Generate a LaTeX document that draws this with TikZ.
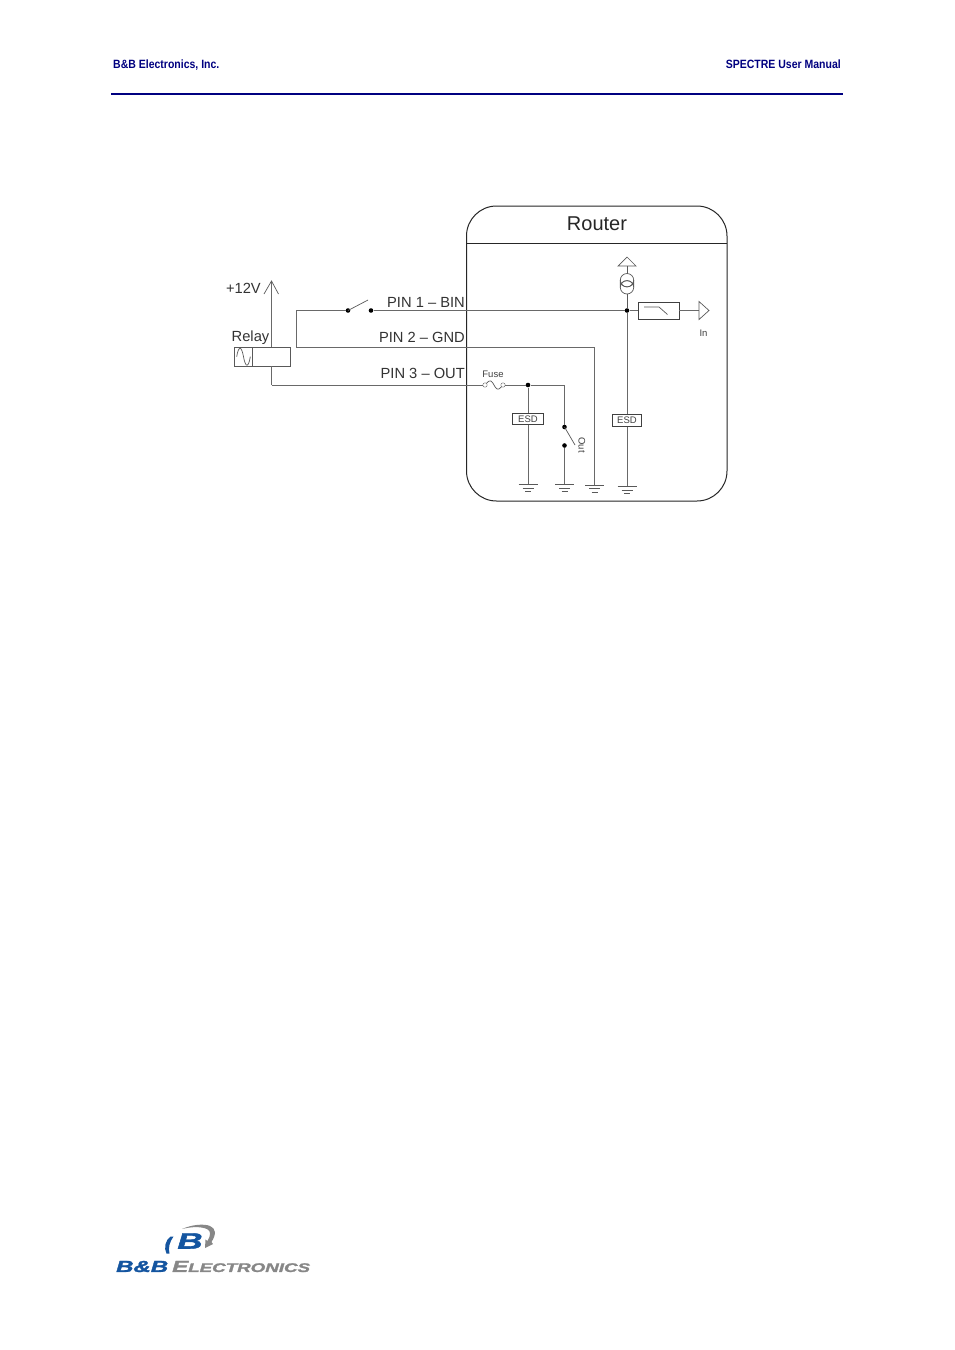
\documentclass[tikz,border=0pt]{standalone}
\usepackage{fontspec}
\setmainfont{Liberation Sans}
\newfontfamily\logofont[BoldItalicFeatures={FakeBold=1.6}]{Liberation Sans}
\usetikzlibrary{arrows.meta,calc}
\definecolor{navy}{RGB}{0,0,128}
\definecolor{wire}{RGB}{105,105,105}
\definecolor{bbblue}{RGB}{20,85,160}
\definecolor{bbgray}{RGB}{135,135,135}
\tikzset{
  wireline/.style={draw=wire,line width=0.8pt},
  symline/.style={draw=wire!85!black,line width=0.7pt},
  junction/.style={circle,fill=black,inner sep=0pt,minimum size=4.6pt},
  lab/.style={inner sep=0pt,text=black!80,font=\fontsize{14.7}{16}\selectfont},
  small/.style={inner sep=0pt,text=black!75,font=\fontsize{9.5}{11}\selectfont},
  esdbox/.style={draw=black!75,fill=white,line width=0.7pt,inner sep=0pt,minimum height=11.5pt,text=black!75,font=\fontsize{9.5}{11}\selectfont},
  gnd/.pic={\draw[symline] (-9.5,0)--(9.5,0) (-5.5,3.5)--(5.5,3.5) (-3,7)--(3,7);},
}
\begin{document}
\begin{tikzpicture}[x=1pt,y=-1pt]
\useasboundingbox (0,0) rectangle (954,1350);
\fill[white] (0,0) rectangle (954,1350);
% header
\node[anchor=base west,inner sep=0pt,text=navy] (hl) at (113,68) {\scalebox{0.875}[1]{\fontsize{12}{14}\selectfont\bfseries B\&B Electronics, Inc.}};
\node[anchor=base east,inner sep=0pt,text=navy] (hr) at (841,68) {\scalebox{0.875}[1]{\fontsize{12}{14}\selectfont\bfseries SPECTRE User Manual}};
\coordinate (ruleL) at (111,94);
\coordinate (ruleR) at (843,94);
\draw[navy,line width=1.5pt] (ruleL)--(ruleR);
% router
\draw[black!85,line width=1pt,rounded corners=30pt] (466.5,206) rectangle (727,501);
\coordinate (divL) at (466.5,243);
\coordinate (divR) at (727,243);
\draw[black!85,line width=1pt] (divL)--(divR);
\node[inner sep=0pt,text=black!85,font=\fontsize{20}{22}\selectfont] (router) at (597,224) {Router};
% points
\coordinate (v12) at (271.5,281);
\coordinate (v12a) at (264,294);
\coordinate (v12b) at (278.5,294);
\node[lab,anchor=east] (v12lab) at (261,288) {+12V};
\node[lab,anchor=west] (relaylab) at (231.5,337.5) {Relay};
\coordinate (relayTL) at (234.5,347.5);
\coordinate (relayBR) at (290,366);
\coordinate (relayD) at (252.7,347.5);
\coordinate (relayDb) at (252.7,366);
\coordinate (relayT) at (271.5,347.5);
\coordinate (relayB) at (271.5,366);
\coordinate (p3c) at (271.5,385);
\coordinate (p1c) at (296.5,310.5);
\coordinate (p2c) at (296.5,347.5);
\coordinate (p2r) at (594.5,347.5);
\node[junction] (sw1) at (348,310.5) {};
\node[junction] (sw2) at (371,310.5) {};
\coordinate (sw1t) at (368,300);
\node[junction] (j1) at (627,310.5) {};
\node[junction] (j2) at (528,385) {};
\node[lab,anchor=east] (pin1) at (465,302) {PIN 1 – BIN};
\node[lab,anchor=east] (pin2) at (465,337.5) {PIN 2 – GND};
\node[lab,anchor=east] (pin3) at (465,373) {PIN 3 – OUT};
% +12V
\draw[wireline] (relayT)--(v12);
\draw[symline] (v12a)--(v12)--(v12b);
% relay
\draw[symline] (relayTL) rectangle (relayBR);
\draw[symline] (relayD)--(relayDb);
\draw[symline] (236.7,356.7) .. controls (238.5,345.5) and (241.5,345.5) .. (243.5,356.7) .. controls (245.5,368) and (248.5,368) .. (250.3,356.7);
% wires
\draw[wireline] (relayB)--(p3c);
\draw[wireline] (sw1)--(p1c)--(p2c)--(p2r);
\draw[wireline] (sw2)--(j1);
\draw[symline] (sw1.center)--(sw1t);
% fuse
\node[circle,draw=wire,inner sep=0pt,minimum size=4.4pt] (fa) at (485,385) {};
\node[circle,draw=wire,inner sep=0pt,minimum size=4.4pt] (fb) at (503,385) {};
\draw[wireline] (p3c)--(fa);
\draw[symline] (fa) .. controls (490,379) and (492,381) .. (494,385) .. controls (496,389) and (498,391) .. (fb);
\draw[wireline] (fb)--(j2);
\node[small,anchor=center] (fuselab) at (493,374.5) {Fuse};
% ESD left branch
\node[esdbox,minimum width=30.5pt] (esd1) at (528,419) {ESD};
\coordinate (g1) at (528,484.5);
\draw[wireline] (j2)--(esd1);
\draw[wireline] (esd1)--(g1);
\pic at (g1) {gnd};
% out switch
\coordinate (c1) at (564.5,385);
\node[junction] (o1) at (564.5,427) {};
\node[junction] (o2) at (564.5,445.5) {};
\coordinate (o1t) at (575,445);
\coordinate (g2) at (564.5,484.5);
\draw[wireline] (j2)--(c1)--(o1);
\draw[symline] (o1.center)--(o1t);
\draw[wireline] (o2)--(g2);
\pic at (g2) {gnd};
\node[small,rotate=-90] (outlab) at (582,445) {Out};
% GND
\coordinate (g3) at (594.5,485);
\draw[wireline] (p2r)--(g3);
\pic at (g3) {gnd};
% ESD right
\node[esdbox,minimum width=29.5pt] (esd2) at (627,420.5) {ESD};
\coordinate (g4) at (627,486.5);
\draw[wireline] (j1)--(esd2);
\draw[wireline] (esd2)--(g4);
\pic at (g4) {gnd};
% current source
\coordinate (ta) at (627,257);
\coordinate (tb) at (618,266);
\coordinate (tc) at (636,266);
\draw[symline] (ta)--(tb)--(tc)--cycle;
\coordinate (tm) at (627,266);
\coordinate (cs1) at (627,273.5);
\coordinate (cs2) at (627,294);
\draw[symline] (tm)--(cs1);
\draw[symline] (cs2)--(j1);
\draw[symline] (620.3,280.2) arc[start angle=180,end angle=0,radius=6.7] -- (633.7,287.3) arc[start angle=0,end angle=-180,radius=6.7] -- cycle;
\draw[symline] (627,287.3) circle[radius=6.7];
\draw[symline] (627,280.2) circle[radius=6.7];
% filter
\node[draw=black!75,line width=0.8pt,inner sep=0pt,minimum width=40.5pt,minimum height=17pt] (filt) at (658.7,310.5) {};
\draw[symline] (644,307)--(659,307)--(667.5,314.5);
\draw[wireline] (j1)--(filt);
\coordinate (inb) at (699,310.5);
\coordinate (ina) at (699,301.5);
\coordinate (inc) at (699,319.5);
\coordinate (ind) at (709,310.5);
\draw[wireline] (filt)--(inb);
\draw[symline] (ina)--(ind)--(inc)--cycle;
\node[small] (inlab) at (703.5,333) {In};
% logo
\fill[bbgray] (182,1229) .. controls (192,1224.5) and (204,1223.5) .. (210,1226) .. controls (216,1228.5) and (216.5,1234) .. (211.5,1242) -- (213,1244) -- (205,1248) -- (205.5,1239.5) -- (207.5,1241) .. controls (211,1235) and (211,1231) .. (207,1229) .. controls (201,1226.5) and (192,1226.5) .. (182,1229) -- cycle;
\fill[bbblue] (170.5,1236.5) .. controls (165.5,1240) and (163.5,1248) .. (166.5,1253.5) -- (169.5,1253.5) .. controls (168,1248) and (169.5,1242) .. (173.5,1236.5) -- cycle;
\node[inner sep=0pt,text=bbblue] (logoB) at (190,1241) {\scalebox{1.55}[1]{\fontsize{22.5}{26}\selectfont\logofont\bfseries\itshape B}};
\node[anchor=west,inner sep=0pt,text=bbblue] (logo1) at (116,1266.5) {\scalebox{1.5}[1]{\fontsize{16}{18}\selectfont\logofont\bfseries\itshape B\&B}};
\node[anchor=west,inner sep=0pt,text=bbgray] (logo2) at (172,1266.5) {\scalebox{1.5}[1]{\logofont\bfseries\itshape\fontsize{16}{18}\selectfont E\fontsize{12.5}{14}\selectfont LECTRONICS}};
\end{tikzpicture}
\end{document}
